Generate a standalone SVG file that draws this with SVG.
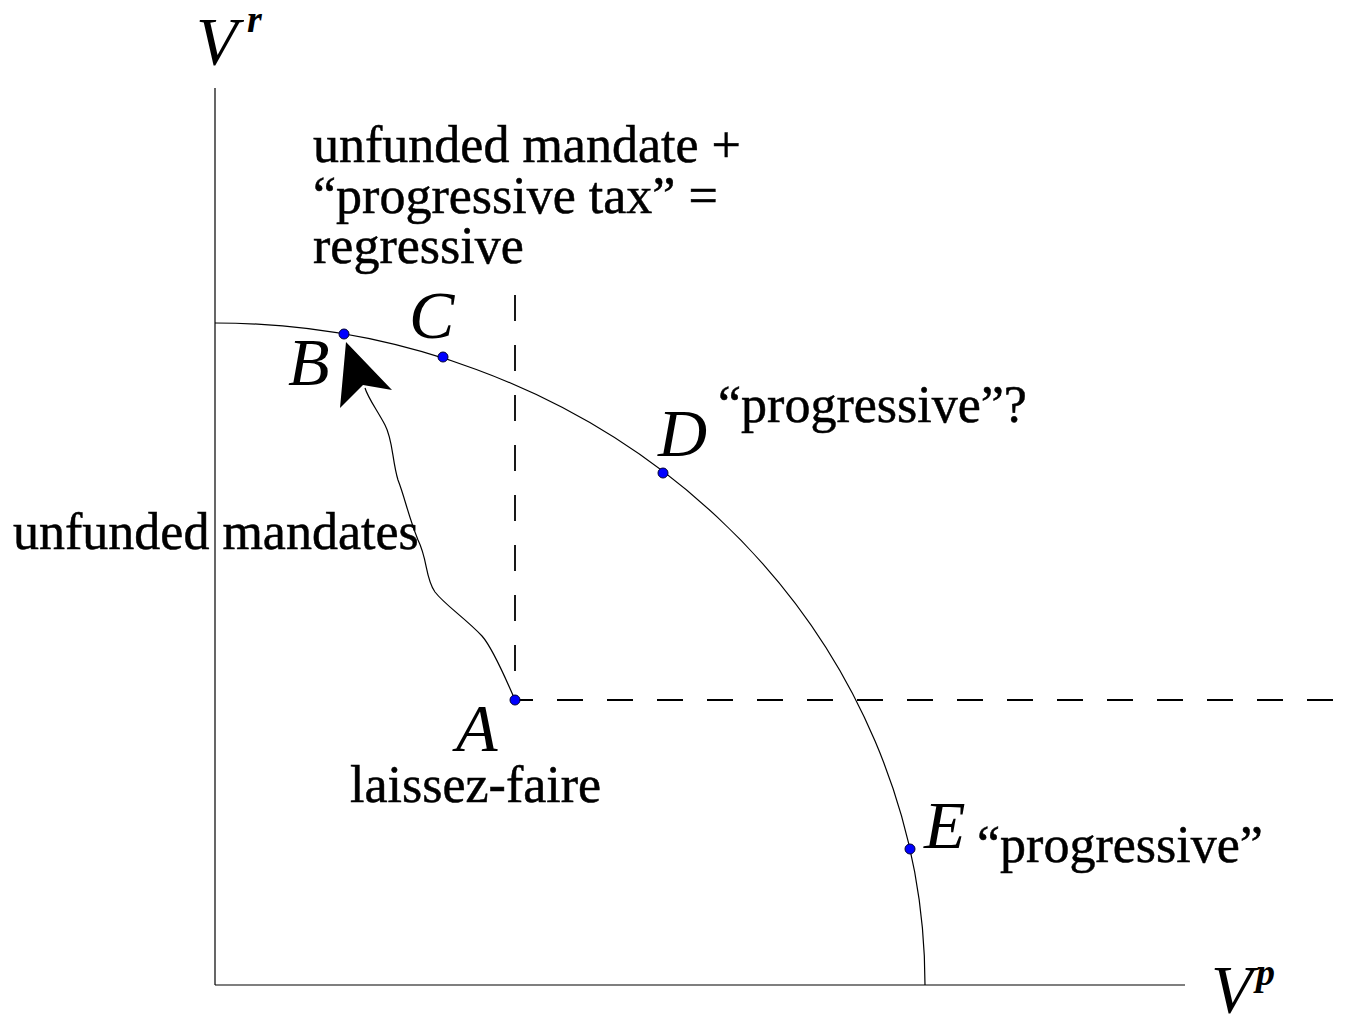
<svg xmlns="http://www.w3.org/2000/svg" width="1352" height="1015" viewBox="0 0 1352 1015">
<style>
.ax{stroke:#000;stroke-width:1.2;fill:none}
.dash{stroke:#000;stroke-width:1.8;fill:none;stroke-dasharray:26 24}
.pt{fill:#0000ff;stroke:#000033;stroke-width:1}
.t{font-family:"Liberation Serif","Times New Roman",serif;font-size:52px;fill:#000;stroke:#000;stroke-width:0.5}
.it{font-family:"Liberation Serif","Times New Roman",serif;font-style:italic;font-size:68px;fill:#000}
.sup{font-family:"Liberation Serif","Times New Roman",serif;font-style:italic;font-weight:bold;font-size:38px;fill:#000}
</style>
<rect width="1352" height="1015" fill="#fff"/>
<g id="axes">
<line class="ax" x1="215" y1="88" x2="215" y2="985"/>
<line class="ax" x1="215" y1="985" x2="1185" y2="985"/>
<text class="it" x="196" y="64" font-size="76">V</text><text class="sup" x="247" y="32">r</text>
<text class="it" x="1211" y="1012" font-size="76">V</text><text class="sup" x="1256" y="985">p</text>
</g>
<g id="frontier">
<path class="ax" d="M215 323 A710 662 0 0 1 925 985"/>
</g>
<g id="connectors">
<line class="dash" x1="515" y1="295" x2="515" y2="700"/>
<line class="dash" x1="515" y1="700" x2="1335" y2="700" stroke-dashoffset="8"/>
<path class="ax" d="M515 700 C500 665 490 645 482 636 C465 618 445 605 435 592 C425 578 428 560 418 540 C408 515 405 498 398 480 C392 460 393 440 385 425 C377 410 368 398 365 388"/>
<polygon points="346,342 392,390 363,385 340,408" fill="#000"/>
</g>
<g id="A"><circle class="pt" cx="515" cy="700" r="5"/><text class="it" x="456" y="751">A</text><text class="t" x="350" y="802">laissez-faire</text></g>
<g id="B"><circle class="pt" cx="344" cy="334" r="5"/><text class="it" x="288" y="385">B</text></g>
<g id="C"><circle class="pt" cx="443" cy="357" r="5"/><text class="it" x="409" y="338">C</text></g>
<g id="D"><circle class="pt" cx="663" cy="473" r="5"/><text class="it" x="658" y="456">D</text><text class="t" x="718" y="422">“progressive”?</text></g>
<g id="E"><circle class="pt" cx="910" cy="849" r="5"/><text class="it" x="924" y="848">E</text><text class="t" x="977" y="862">“progressive”</text></g>
<g id="labels">
<text class="t" x="313" y="162">unfunded mandate +</text>
<text class="t" x="313" y="213">“progressive tax” =</text>
<text class="t" x="313" y="263">regressive</text>
<text class="t" x="13" y="549">unfunded mandates</text>
</g>
</svg>
